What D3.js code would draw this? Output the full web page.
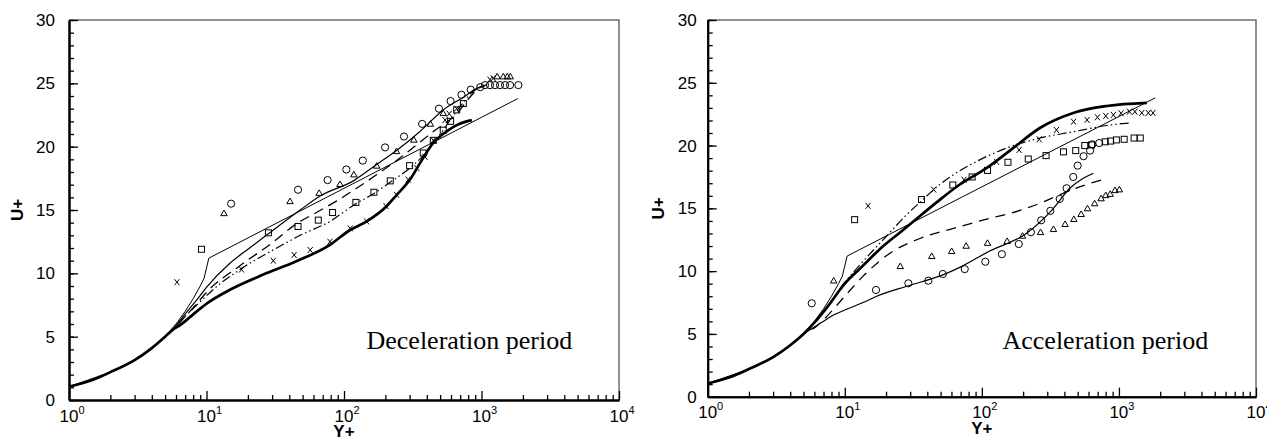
<!DOCTYPE html>
<html>
<head>
<meta charset="utf-8">
<script src="https://cdn.jsdelivr.net/npm/d3@7"></script>
<style>
body { margin: 0; background: #fff; }
text { font-family: "Liberation Sans", Arial, sans-serif; }
</style>
</head>
<body>
<svg id="chart" width="1267" height="442"></svg>
<script>
// ---- data: [Y+, U+] pairs ----
var wallStart = [[1,1.05],[1.5,1.6],[2,2.2],[3,3.15],[4,4.1],[5,5.0]];
var logLaw = [[1,1.05],[2,2.2],[3,3.15],[4,4.1],[5,5.0],[6,6.0],[7,7.0],[8,8.0],[9,9.0],[9.6,9.6],[10.4,11.2],[1840,23.8]];

// deceleration period
var decThick = wallStart.concat([[5.7,5.55],[6.4,5.9],[8.5,7.0],[10,7.6],[14.8,8.7],[25.9,9.9],[45,10.95],[79,12.25],[110,13.4],[146,14.1],[204,15.3],[242,16.2],[302,17.4],[357,18.7],[446,20.3],[558,21.2],[660,21.7],[780,22.0],[850,22.1]]);
var decSolid = wallStart.concat([[5.7,5.6],[7,6.8],[8.5,7.9],[10,8.9],[14.8,10.8],[20,11.9],[28,13.1],[48,15.0],[67,16.1],[117,17.3],[173,18.6],[241,19.7],[357,21.2],[527,22.9],[738,23.9],[923,24.6],[1100,24.9]]);
var decDashed = wallStart.concat([[5.7,5.6],[7,6.6],[8.5,7.6],[10,8.5],[17.5,10.6],[30,12.4],[45,13.9],[63,14.8],[88,15.7],[163,17.6],[255,19.1],[446,21.2],[660,22.6],[823,23.9],[950,24.6],[1050,24.8]]);
var decDashDot = wallStart.concat([[5.7,5.55],[7,6.6],[8.5,7.5],[12,9.0],[17.5,10.3],[30,11.8],[48,13.0],[79,14.1],[122,15.5],[165,16.3],[217,17.2],[300,18.3],[377,19.3],[446,20.3],[527,21.3],[600,22.2],[740,23.5],[850,24.3],[1000,24.7]]);
var decCircles = [[15.1,15.5],[46.3,16.6],[76,17.36],[104,18.2],[137,18.9],[199,19.94],[273,20.8],[370,21.8],[490,23.0],[596,23.6],[715,24.1],[835,24.5],[980,24.7],[1060,24.86],[1153,24.86],[1254,24.86],[1364,24.86],[1483,24.86],[1613,24.86],[1855,24.86]];
var decTriangles = [[13.4,14.7],[40.5,15.65],[66,16.3],[93.5,17.0],[118,17.76],[173,18.45],[241,19.6],[322,20.5],[425,21.76],[527,22.6],[1300,25.5],[1440,25.5],[1540,25.5],[1620,25.5]];
var decSquares = [[9.2,11.9],[28.2,13.2],[46.3,13.7],[65,14.2],[82.6,14.8],[122,15.6],[165,16.4],[217,17.3],[300,18.5],[377,19.5],[446,20.5],[527,21.3],[596,22.0],[660,22.9],[738,23.4]];
var decCrosses = [[6.1,9.3],[18,10.3],[30.6,11.0],[43.4,11.45],[56.8,11.84],[79,12.5],[111,13.55],[146,14.1],[202,15.3],[241,16.2],[293,17.4],[339,18.3],[388,19.2],[446,20.5],[543,22.1],[583,22.6],[660,23.0],[1153,25.3],[1217,25.4]];

// acceleration period
var accThick = wallStart.concat([[6,5.9],[7.4,7.1],[10,9.0],[12.9,10.2],[19.1,12.0],[26.8,13.3],[47,15.5],[69,16.9],[108,18.2],[169,19.8],[265,21.4],[464,22.6],[815,23.15],[1600,23.4]]);
var accDashDot = wallStart.concat([[6,5.9],[7.4,7.1],[10,9.1],[12.9,10.5],[20.2,12.8],[28.3,14.5],[36.3,15.6],[49.4,16.9],[69,18.0],[86.6,18.6],[143,19.7],[265,20.6],[464,21.1],[815,21.6],[1195,21.8]]);
var accDashed = wallStart.concat([[6.2,5.6],[7.4,6.4],[10,8.0],[13.6,9.6],[22.6,11.6],[35.3,12.6],[62,13.4],[114,14.2],[160,14.6],[265,15.4],[372,16.1],[581,16.9],[770,17.3]]);
var accSolid = wallStart.concat([[5.7,5.4],[7,6.0],[7.8,6.35],[10,6.9],[13.6,7.5],[17.1,8.0],[28.3,8.8],[52,9.7],[69,10.3],[114,11.6],[211,13.0],[333,15.0],[438,16.6],[550,17.4],[651,17.8]]);
var accCircles = [[5.74,7.44],[16.9,8.5],[29.1,9.03],[40.7,9.24],[51.9,9.77],[75,10.16],[106,10.75],[140,11.35],[186,12.16],[228,13.1],[271,14.05],[316,14.8],[370,15.75],[415,16.6],[464,17.5],[500,18.4],[552,19.15],[616,19.6],[640,20.1],[718,20.2]];
var accTriangles = [[8.3,9.2],[25.4,10.35],[43.1,11.15],[60.2,11.55],[76.8,11.97],[110,12.2],[153,12.35],[198,12.77],[268,13.06],[333,13.3],[405,13.7],[469,14.1],[530,14.5],[590,14.95],[665,15.35],[741,15.75],[801,16.0],[863,16.1],[935,16.4],[1007,16.46]];
var accSquares = [[11.8,14.1],[36.3,15.7],[61.4,16.86],[85,17.5],[110,18.02],[155,18.67],[218,18.93],[294,19.2],[394,19.5],[484,19.6],[563,20.0],[631,20.05],[794,20.3],[870,20.36],[958,20.45],[1092,20.5],[1290,20.6],[1431,20.6]];
var accCrosses = [[14.8,15.2],[44.5,16.5],[74,17.28],[128,18.7],[187,19.65],[262,20.5],[350,21.24],[467,21.9],[586,22.04],[697,22.25],[802,22.36],[911,22.44],[1037,22.57],[1195,22.7],[1308,22.7],[1468,22.6],[1640,22.6],[1773,22.6]];

var yMajor = [0,5,10,15,20,25,30];
var yMinor = d3.range(0,31,1);
var xMajor = [1,10,100,1000,10000];
var xExp = ["0","1","2","3","4"];
var xMinor = [];
for (var d = 0; d < 4; d++) for (var k = 2; k < 10; k++) xMinor.push(k*Math.pow(10,d));

var svg = d3.select("#chart");

function panel(cfg) {
  var x = d3.scaleLog().domain([1,10000]).range([cfg.x0, cfg.x1]);
  var y = d3.scaleLinear().domain([0,30]).range([cfg.y0, cfg.y1]);
  var g = svg.append("g");

  // frame top/right
  g.append("path")
    .attr("d", "M" + cfg.x0 + "," + cfg.y1 + "H" + cfg.x1 + "V" + cfg.y0)
    .attr("fill","none").attr("stroke","#6e6e6e").attr("stroke-width",1.5);

  var clipId = "clip" + cfg.id;
  svg.append("clipPath").attr("id", clipId).append("rect")
    .attr("x", cfg.x0).attr("y", cfg.y1).attr("width", cfg.x1 - cfg.x0).attr("height", cfg.y0 - cfg.y1);
  var plot = g.append("g").attr("clip-path","url(#" + clipId + ")");

  var smooth = d3.line().x(function(d){return x(d[0]);}).y(function(d){return y(d[1]);}).curve(d3.curveMonotoneX);
  var straight = d3.line().x(function(d){return x(d[0]);}).y(function(d){return y(d[1]);});

  cfg.lines.forEach(function(l) {
    plot.append("path").datum(l.data)
      .attr("d", l.straight ? straight : smooth)
      .attr("fill","none").attr("stroke","#000")
      .attr("stroke-width", l.w)
      .attr("stroke-dasharray", l.dash || null)
      .attr("stroke-linejoin","round");
  });

  // markers
  plot.selectAll(".circ").data(cfg.circles).enter().append("circle")
    .attr("cx", function(d){return x(d[0]);}).attr("cy", function(d){return y(d[1]);})
    .attr("r", 3.6).attr("fill","none").attr("stroke","#000").attr("stroke-width",1);
  plot.selectAll(".sq").data(cfg.squares).enter().append("rect")
    .attr("x", function(d){return x(d[0]) - 3;}).attr("y", function(d){return y(d[1]) - 3;})
    .attr("width", 6).attr("height", 6).attr("fill","none").attr("stroke","#000").attr("stroke-width",1);
  plot.selectAll(".tri").data(cfg.triangles).enter().append("path")
    .attr("d", d3.symbol().type(d3.symbolTriangle).size(18))
    .attr("transform", function(d){return "translate(" + x(d[0]) + "," + y(d[1]) + ")";})
    .attr("fill","none").attr("stroke","#000").attr("stroke-width",1);
  plot.selectAll(".cr").data(cfg.crosses).enter().append("path")
    .attr("d", function(d){
      var cx = x(d[0]), cy = y(d[1]);
      return "M" + (cx-2.5) + "," + (cy-3) + "L" + (cx+2.5) + "," + (cy+3) +
             "M" + (cx+2.5) + "," + (cy-3) + "L" + (cx-2.5) + "," + (cy+3);
    })
    .attr("fill","none").attr("stroke","#000").attr("stroke-width",1);

  // axes
  var yAx = g.append("g").attr("transform","translate(" + cfg.x0 + ",0)");
  yAx.call(d3.axisLeft(y).tickValues(yMinor).tickSizeInner(-5).tickSizeOuter(0).tickFormat(""));
  yAx.call(function(s){ s.selectAll("text").remove(); });
  var yAx2 = g.append("g").attr("transform","translate(" + cfg.x0 + ",0)");
  yAx2.call(d3.axisLeft(y).tickValues(yMajor).tickSizeInner(-9).tickSizeOuter(0).tickPadding(cfg.yPad + 9));
  yAx2.selectAll("text").attr("font-size", 17).attr("fill","#000").style("font-family","Liberation Sans, Arial, sans-serif");

  var xAx = g.append("g").attr("transform","translate(0," + cfg.y0 + ")");
  xAx.call(d3.axisBottom(x).tickValues(xMinor).tickSizeInner(-5).tickSizeOuter(0).tickFormat(""));
  var xAx2 = g.append("g").attr("transform","translate(0," + cfg.y0 + ")");
  xAx2.call(d3.axisBottom(x).tickValues(xMajor).tickSizeInner(-9).tickSizeOuter(0).tickFormat(""));

  [yAx, yAx2, xAx, xAx2].forEach(function(a){
    a.select(".domain").attr("stroke","#000").attr("stroke-width",2);
    a.selectAll(".tick line").attr("stroke","#000").attr("stroke-width",1.3);
  });

  xMajor.forEach(function(v, i) {
    var t = g.append("text").attr("x", x(v) + 3).attr("y", cfg.y0 + 21.7)
      .attr("text-anchor","middle").attr("font-size",17).attr("fill","#000");
    t.append("tspan").text("10");
    t.append("tspan").attr("font-size",11).attr("dy",-8).text(xExp[i]);
  });

  g.append("text").attr("x", x(100)).attr("y", cfg.y0 + 37)
    .attr("text-anchor","middle").attr("font-size",17).attr("font-weight","bold").text("Y+");
  g.append("text")
    .attr("transform","translate(" + (cfg.x0 - cfg.uOff) + "," + ((cfg.y0 + cfg.y1) / 2) + ") rotate(-90)")
    .attr("text-anchor","middle").attr("font-size",17).attr("font-weight","bold").text("U+");

  g.append("text").attr("x", cfg.tx).attr("y", cfg.ty)
    .style("font-family","Liberation Serif, Times New Roman, serif")
    .attr("font-size",26).attr("fill","#000").text(cfg.title);
}

panel({
  id: "dec", x0: 69, x1: 619, y0: 400, y1: 20, yPad: 5, uOff: 46,
  tx: 366.5, ty: 349, title: "Deceleration period",
  lines: [
    {data: logLaw, w: 1, straight: true},
    {data: decThick, w: 2.7},
    {data: decSolid, w: 1.2},
    {data: decDashed, w: 1.3, dash: "10,6"},
    {data: decDashDot, w: 1.2, dash: "9,3,1.5,3,1.5,3"}
  ],
  circles: decCircles, squares: decSquares, triangles: decTriangles, crosses: decCrosses
});

panel({
  id: "acc", x0: 707.7, x1: 1256, y0: 396.7, y1: 20, yPad: 2, uOff: 44,
  tx: 1002.5, ty: 349, title: "Acceleration period",
  lines: [
    {data: logLaw, w: 1, straight: true},
    {data: accThick, w: 2.7},
    {data: accSolid, w: 1.2},
    {data: accDashed, w: 1.3, dash: "10,7"},
    {data: accDashDot, w: 1.2, dash: "9,3,1.5,3,1.5,3"}
  ],
  circles: accCircles, squares: accSquares, triangles: accTriangles, crosses: accCrosses
});
</script>
</body>
</html>
